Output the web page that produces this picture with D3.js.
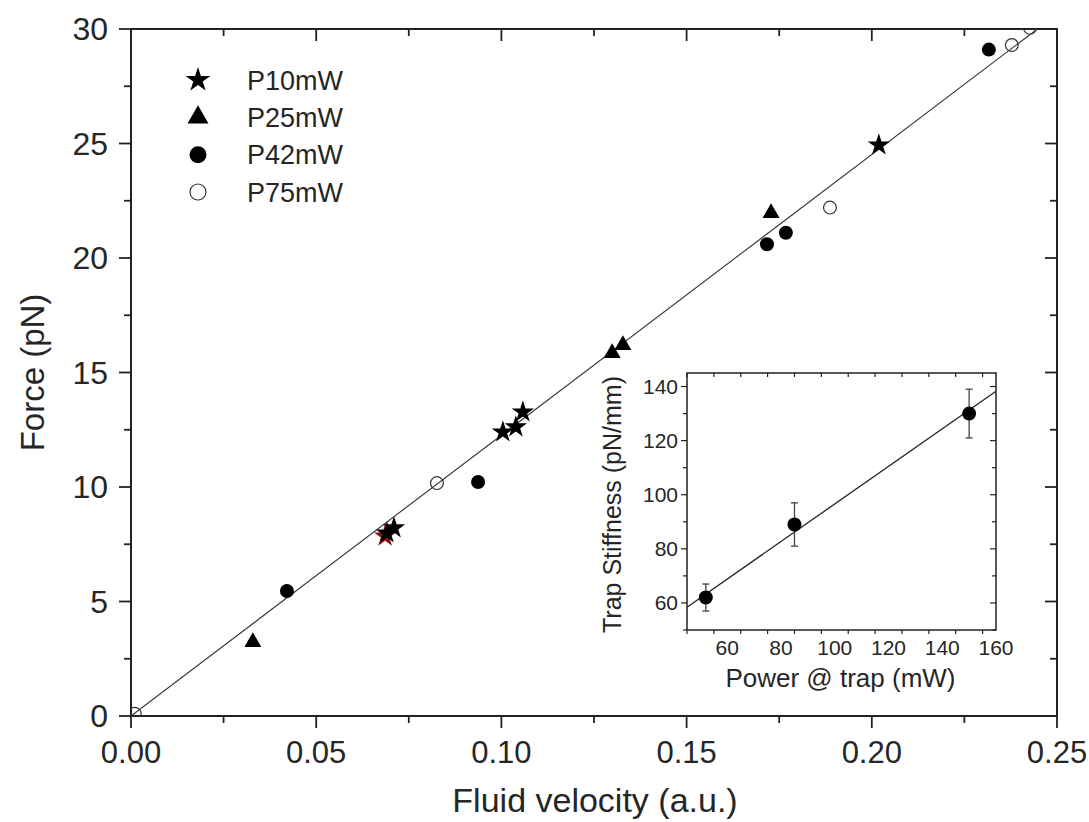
<!DOCTYPE html>
<html><head><meta charset="utf-8">
<script src="https://cdn.jsdelivr.net/npm/d3@7"></script>
<style>body{margin:0;background:#fff}svg{display:block}text{font-family:"Liberation Sans",Arial,sans-serif;fill:#262626}</style>
</head><body><svg id="c" width="1089" height="822"></svg>
<script>
// ---- data ----
const seriesNames = ["P10mW","P25mW","P42mW","P75mW"];
const p10v = [0.0691, 0.0710, 0.1004, 0.1039, 0.1058, 0.2019];
const p10f = [7.99, 8.21, 12.40, 12.62, 13.27, 24.93];
const p10redV = [0.0686]; const p10redF = [7.85];
const p25v = [0.0329, 0.1299, 0.1328, 0.1728];
const p25f = [3.23, 15.85, 16.20, 21.96];
const p42v = [0.0421, 0.0937, 0.1717, 0.1768, 0.2316];
const p42f = [5.46, 10.22, 20.60, 21.10, 29.10];
const p75v = [0.0010, 0.0826, 0.1887, 0.2378, 0.2427];
const p75f = [0.10, 10.17, 22.20, 29.30, 30.05];
const fitSlope = 122.6; // Force = slope * velocity
const xTicks = [0, 0.05, 0.10, 0.15, 0.20, 0.25];
const yTicks = [0, 5, 10, 15, 20, 25, 30];
// inset
const insetPower = [52, 85, 150];
const insetStiff = [62, 89, 130];
const insetErr = [5, 8, 9];
const insetFit = [27.2, 0.694]; // intercept, slope
const insetXTicks = [60, 80, 100, 120, 140, 160];
const insetYTicks = [60, 80, 100, 120, 140];

const svg = d3.select("#c");
// ---- main plot ----
const L=131, R=1057, T=29, B=716;
const x = d3.scaleLinear().domain([0,0.25]).range([L,R]);
const y = d3.scaleLinear().domain([0,30]).range([B,T]);

svg.append("clipPath").attr("id","clipMain").append("rect").attr("x",L).attr("y",T).attr("width",R-L).attr("height",B-T);

function drawAxes(g, xs, ys, opt){
  const [x0,x1]=xs.range(), [y0,y1]=ys.range();
  const minorX = d3.range(xs.domain()[0], xs.domain()[1]+1e-9, opt.xMinor);
  const minorY = d3.range(ys.domain()[0], ys.domain()[1]+1e-9, opt.yMinor);
  const tk = g.append("g").attr("stroke","#222").attr("stroke-width",opt.tw);
  const isMajor=(v,arr)=>arr.some(a=>Math.abs(a-v)<1e-9);
  minorX.forEach(v=>{
    const L = isMajor(v,opt.xTicks)?opt.maj:opt.min;
    tk.append("line").attr("x1",xs(v)).attr("x2",xs(v)).attr("y1",y0).attr("y2",y0+L);
    tk.append("line").attr("x1",xs(v)).attr("x2",xs(v)).attr("y1",y1).attr("y2",y1+L);
  });
  minorY.forEach(v=>{
    const L = isMajor(v,opt.yTicks)?opt.maj:opt.min;
    tk.append("line").attr("y1",ys(v)).attr("y2",ys(v)).attr("x1",x0).attr("x2",x0-L);
    tk.append("line").attr("y1",ys(v)).attr("y2",ys(v)).attr("x1",x1).attr("x2",x1-L);
  });
  g.append("rect").attr("x",x0).attr("y",y1).attr("width",x1-x0).attr("height",y0-y1)
    .attr("fill","none").attr("stroke","#222").attr("stroke-width",opt.fw);
  opt.xTicks.forEach(v=>g.append("text").attr("x",xs(v)).attr("y",y0+opt.xlOff)
    .attr("text-anchor","middle").attr("font-size",opt.fs).text(opt.xfmt(v)));
  opt.yTicks.forEach(v=>g.append("text").attr("x",x0-opt.ylOff).attr("y",ys(v)).attr("dy","0.35em")
    .attr("text-anchor","end").attr("font-size",opt.yfs||opt.fs).text(opt.yfmt(v)));
}

const gm = svg.append("g");
drawAxes(gm, x, y, {xMinor:0.025, yMinor:2.5, xTicks, yTicks, maj:12, min:7, tw:1.8, fw:2,
  fs:31, yfs:32, xlOff:47, ylOff:23, xfmt:d3.format(".2f"), yfmt:d3.format("d")});

gm.append("text").attr("transform",`translate(${(L+R)/2+1},812)`).attr("text-anchor","middle")
  .attr("font-size",34).text("Fluid velocity (a.u.)");
gm.append("text").attr("transform",`translate(44,${(T+B)/2}) rotate(-90)`).attr("text-anchor","middle")
  .attr("font-size",33).text("Force (pN)");

// fit line
const pm = svg.append("g").attr("clip-path","url(#clipMain)");
pm.append("path").datum([0,0.25]).attr("fill","none").attr("stroke","#333").attr("stroke-width",1.1)
  .attr("d", d3.line().x(d=>x(d)).y(d=>y(fitSlope*d)));

const starSym = d3.symbol().type(d3.symbolStar).size(155)();
const triSym = d3.symbol().type(d3.symbolTriangle).size(125)();
const circR = 7;

function pts(vs, fs){ return vs.map((v,i)=>({v, f:fs[i]})); }
pm.selectAll(".sr").data(pts(p10redV,p10redF)).join("path").attr("d",starSym)
  .attr("transform",d=>`translate(${x(d.v)},${y(d.f)})`).attr("fill","#8b1010");
pm.selectAll(".p75").data(pts(p75v,p75f)).join("circle").attr("cx",d=>x(d.v)).attr("cy",d=>y(d.f))
  .attr("r",circR-0.6).attr("fill","#fff").attr("fill-opacity",0).attr("stroke","#333").attr("stroke-width",1.2);
pm.selectAll(".p42").data(pts(p42v,p42f)).join("circle").attr("cx",d=>x(d.v)).attr("cy",d=>y(d.f))
  .attr("r",circR).attr("fill","#000");
pm.selectAll(".p25").data(pts(p25v,p25f)).join("path").attr("d",triSym)
  .attr("transform",d=>`translate(${x(d.v)},${y(d.f)})`).attr("fill","#000");
pm.selectAll(".p10").data(pts(p10v,p10f)).join("path").attr("d",starSym)
  .attr("transform",d=>`translate(${x(d.v)},${y(d.f)})`).attr("fill","#000");

// legend
const lg = svg.append("g");
const legY = d3.scaleLinear().domain([0,3]).range([80,192]);
const legSyms = [
  g=>g.append("path").attr("d",d3.symbol().type(d3.symbolStar).size(190)()).attr("fill","#000"),
  g=>g.append("path").attr("d",d3.symbol().type(d3.symbolTriangle).size(190)()).attr("fill","#000"),
  g=>g.append("circle").attr("r",8.5).attr("fill","#000"),
  g=>g.append("circle").attr("r",8).attr("fill","none").attr("stroke","#333").attr("stroke-width",1.2)
];
seriesNames.forEach((n,i)=>{
  const g = lg.append("g").attr("transform",`translate(198,${legY(i)})`);
  legSyms[i](g);
  lg.append("text").attr("x",247).attr("y",legY(i)).attr("dy","0.36em").attr("font-size",27).text(n);
});

// ---- inset ----
const iL=687, iR=996, iT=373, iB=630;
const ix = d3.scaleLinear().domain([45,160]).range([iL,iR]);
const iy = d3.scaleLinear().domain([50,145]).range([iB,iT]);
const gi = svg.append("g");
gi.append("rect").attr("x",iL).attr("y",iT).attr("width",iR-iL).attr("height",iB-iT).attr("fill","#fff");
drawAxes(gi, ix, iy, {xMinor:10, yMinor:10, xTicks:insetXTicks, yTicks:insetYTicks, maj:6, min:4, tw:1.2, fw:1.5,
  fs:21, xlOff:25, ylOff:9, xfmt:d3.format("d"), yfmt:d3.format("d")});
gi.append("text").attr("x",(iL+iR)/2-1).attr("y",687).attr("text-anchor","middle").attr("font-size",26)
  .text("Power @ trap (mW)");
gi.append("text").attr("transform",`translate(621,${(iT+iB)/2+3}) rotate(-90)`).attr("text-anchor","middle")
  .attr("font-size",25).text("Trap Stiffness (pN/mm)");
svg.append("clipPath").attr("id","clipIn").append("rect").attr("x",iL).attr("y",iT).attr("width",iR-iL).attr("height",iB-iT);
const pi = svg.append("g").attr("clip-path","url(#clipIn)");
pi.append("path").datum([45,160]).attr("fill","none").attr("stroke","#222").attr("stroke-width",1.3)
  .attr("d", d3.line().x(d=>ix(d)).y(d=>iy(insetFit[0]+insetFit[1]*d)));
const idata = insetPower.map((p,i)=>({p, s:insetStiff[i], e:insetErr[i]}));
const eb = pi.append("g").attr("stroke","#444").attr("stroke-width",1.3);
idata.forEach(d=>{
  eb.append("line").attr("x1",ix(d.p)).attr("x2",ix(d.p)).attr("y1",iy(d.s-d.e)).attr("y2",iy(d.s+d.e));
  [d.s-d.e,d.s+d.e].forEach(v=>eb.append("line").attr("x1",ix(d.p)-3.5).attr("x2",ix(d.p)+3.5).attr("y1",iy(v)).attr("y2",iy(v)));
});
pi.selectAll(".ic").data(idata).join("circle").attr("cx",d=>ix(d.p)).attr("cy",d=>iy(d.s)).attr("r",7).attr("fill","#000");
</script></body></html>
